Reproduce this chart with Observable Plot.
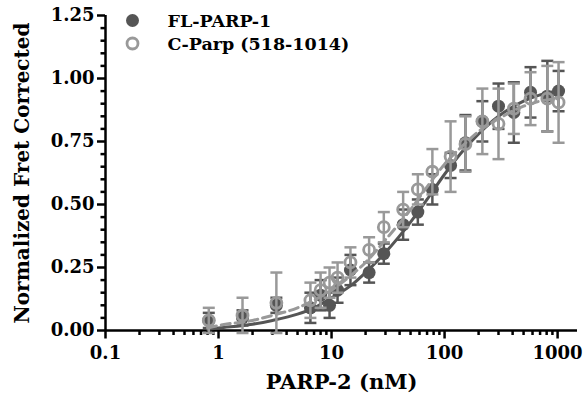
<!DOCTYPE html>
<html><head><meta charset="utf-8">
<script src="https://cdn.jsdelivr.net/npm/d3@7"></script>
<script src="https://cdn.jsdelivr.net/npm/@observablehq/plot@0.6"></script>
<style>body{margin:0;background:#fff} #chart{width:586px;height:404px}</style>
</head><body><div id="chart"></div>
<script>
const seriesNames = ["FL-PARP-1", "C-Parp (518-1014)"];
const conc = [0.82, 1.63, 3.25, 6.5, 8, 9.6, 11.3, 14.7, 21.5, 29, 43, 58, 78, 113, 153, 216, 300, 410, 576, 811, 1020];
const flValues = [0.04, 0.05, 0.10, 0.09, 0.14, 0.10, 0.16, 0.24, 0.23, 0.305, 0.42, 0.47, 0.56, 0.655, 0.745, 0.83, 0.89, 0.865, 0.945, 0.93, 0.95];
const flErrors = [0.03, 0.03, 0.03, 0.06, 0.06, 0.05, 0.05, 0.06, 0.04, 0.04, 0.06, 0.05, 0.06, 0.05, 0.11, 0.08, 0.09, 0.12, 0.10, 0.14, 0.08];
const cpValues = [0.04, 0.06, 0.11, 0.12, 0.16, 0.19, 0.21, 0.27, 0.32, 0.41, 0.48, 0.56, 0.63, 0.69, 0.74, 0.83, 0.82, 0.88, 0.92, 0.92, 0.905];
const cpErrors = [0.05, 0.07, 0.12, 0.07, 0.07, 0.06, 0.06, 0.06, 0.05, 0.06, 0.07, 0.06, 0.09, 0.14, 0.11, 0.13, 0.14, 0.10, 0.105, 0.13, 0.16];
const fitConc = [0.8, 1, 2, 3, 5, 7, 10, 15, 20, 30, 50, 70, 100, 150, 200, 300, 500, 700, 1000];
const flFit = [0.005, 0.01, 0.025, 0.04, 0.065, 0.09, 0.13, 0.18, 0.23, 0.31, 0.43, 0.52, 0.62, 0.72, 0.78, 0.85, 0.91, 0.935, 0.95];
const cpFit = [0.01, 0.02, 0.04, 0.06, 0.09, 0.12, 0.16, 0.22, 0.27, 0.36, 0.48, 0.57, 0.66, 0.74, 0.79, 0.84, 0.89, 0.91, 0.92];
const xTicks = [0.1, 1, 10, 100, 1000];
const xTickLabels = ["0.1", "1", "10", "100", "1000"];
const yTicks = [0, 0.25, 0.5, 0.75, 1, 1.25];
const yTickLabels = ["0.00", "0.25", "0.50", "0.75", "1.00", "1.25"];
const xTitle = "PARP-2 (nM)";
const yTitle = "Normalized Fret Corrected";

const DARK = "#555555", LIGHT = "#999999";
const FONT = "DejaVu Serif";
const fl = conc.map((c, i) => ({c, v: flValues[i], e: flErrors[i]}));
const cp = conc.map((c, i) => ({c, v: cpValues[i], e: cpErrors[i]}));
const flCurve = fitConc.map((c, i) => ({c, v: flFit[i]}));
const cpCurve = fitConc.map((c, i) => ({c, v: cpFit[i]}));

const minorX = [];
for (let p = -1; p <= 3; p++) for (let k = 2; k <= 9; k++) { const v = k * Math.pow(10, p); if (v <= 1500) minorX.push(v); }
const minorY = d3.range(1, 26).map(k => k * 0.05).filter(v => Math.abs(v / 0.25 - Math.round(v / 0.25)) > 1e-6);

const cap = {draw(ctx) { ctx.moveTo(-6, 0); ctx.lineTo(6, 0); }};
const vTick = len => ({draw(ctx) { ctx.moveTo(0, 0); ctx.lineTo(0, len); }});

function errMarks(data, color) {
  return [
    Plot.ruleX(data, {x: "c", y1: d => d.v - d.e, y2: d => d.v + d.e, stroke: color, strokeWidth: 2.5}),
    Plot.dot(data, {x: "c", y: d => d.v + d.e, symbol: cap, stroke: color, strokeWidth: 2.5, fill: "none"}),
    Plot.dot(data, {x: "c", y: d => d.v - d.e, symbol: cap, stroke: color, strokeWidth: 2.5, fill: "none"})
  ];
}

const chart = Plot.plot({
  width: 586, height: 404,
  marginLeft: 105, marginRight: 9, marginTop: 15, marginBottom: 74,
  style: {fontFamily: FONT, fontWeight: "bold", fontSize: "18px", background: "#fff", color: "#000"},
  x: {type: "log", domain: [0.1, 1500], axis: null},
  y: {domain: [0, 1.25]},
  marks: [
    Plot.dot(minorX, {x: d => d, frameAnchor: "bottom", symbol: vTick(4.5), stroke: "#000", strokeWidth: 2.5, fill: "none"}),
    Plot.dot(xTicks, {x: d => d, frameAnchor: "bottom", symbol: vTick(8), stroke: "#000", strokeWidth: 2.5, fill: "none"}),
    Plot.text(xTicks, {x: d => d, frameAnchor: "bottom", lineAnchor: "middle", dy: 23, text: (d, i) => xTickLabels[i], fontSize: 18, fontWeight: "bold", fill: "#000"}),
    Plot.axisY(minorY, {tickSize: 4.5, tickFormat: () => "", strokeWidth: 2.5, label: null}),
    Plot.axisY(yTicks, {tickSize: 8, tickPadding: 3, tickFormat: (d, i) => yTickLabels[i], strokeWidth: 2.5, fontSize: 18, fontWeight: "bold", label: null}),
    Plot.ruleY([0], {stroke: "#000", strokeWidth: 2.5}),
    Plot.ruleX([0.1], {stroke: "#000", strokeWidth: 2.5}),
    Plot.text([xTitle], {frameAnchor: "bottom", lineAnchor: "middle", dy: 52, fontSize: 21, fontWeight: "bold", fill: "#000"}),
    Plot.text([yTitle], {frameAnchor: "left", textAnchor: "middle", lineAnchor: "middle", dx: -83, rotate: -90, fontSize: 20, fontWeight: "bold", fill: "#000"}),
    ...errMarks(fl, DARK),
    Plot.line(flCurve, {x: "c", y: "v", stroke: DARK, strokeWidth: 3, curve: "monotone-x"}),
    Plot.dot(fl, {x: "c", y: "v", r: 6.5, fill: DARK}),
    ...errMarks(cp, LIGHT),
    Plot.line(cpCurve, {x: "c", y: "v", stroke: LIGHT, strokeWidth: 3, strokeDasharray: "9,5", curve: "monotone-x"}),
    Plot.dot(cp, {x: "c", y: "v", r: 5.5, stroke: LIGHT, strokeWidth: 2.8, fill: "none"}),
    Plot.dot([seriesNames[0]], {frameAnchor: "top-left", dx: 27, dy: 5, r: 6.5, fill: DARK}),
    Plot.dot([seriesNames[1]], {frameAnchor: "top-left", dx: 27, dy: 28, r: 5.5, stroke: LIGHT, strokeWidth: 2.8, fill: "none"}),
    Plot.text([seriesNames[0]], {frameAnchor: "top-left", lineAnchor: "middle", dx: 62, dy: 6, textAnchor: "start", fontSize: 17.5, fontWeight: "bold", fill: "#000"}),
    Plot.text([seriesNames[1]], {frameAnchor: "top-left", lineAnchor: "middle", dx: 62, dy: 29, textAnchor: "start", fontSize: 17.5, fontWeight: "bold", fill: "#000"})
  ]
});
document.getElementById("chart").appendChild(chart);
</script></body></html>
